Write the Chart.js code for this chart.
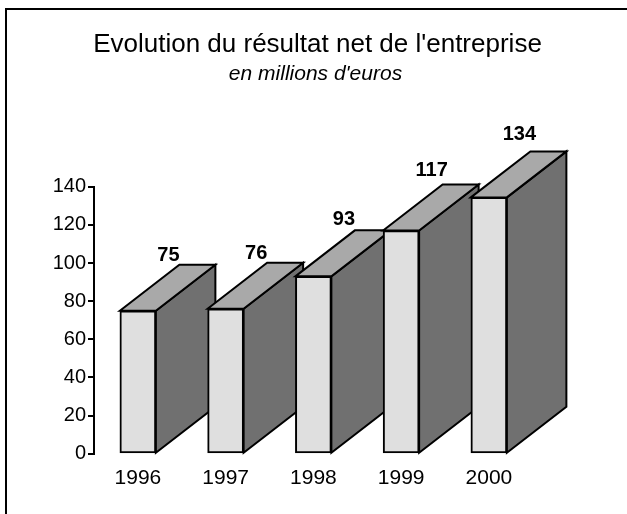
<!DOCTYPE html>
<html><head><meta charset="utf-8">
<style>html,body{margin:0;padding:0;background:#fff}#w{position:relative;width:627px;height:514px}canvas{display:block}</style>
<script src="https://cdn.jsdelivr.net/npm/chart.js@4"></script></head>
<body><div id="w"><canvas id="c" width="627" height="514"></canvas></div>
<script>
const years = ['1996','1997','1998','1999','2000'];
const resultat = [75,76,93,117,134.4];
const yTicks = [0,20,40,60,80,100,120,140];
const titleText = "Evolution du résultat net de l'entreprise";
const subtitleText = "en millions d'euros";
const FONT = '"Liberation Sans", Arial, sans-serif';
const DEPTH_X = 59.5, DEPTH_Y = 46;

function poly(ctx, pts, fill){
  ctx.beginPath();
  pts.forEach((p,i)=> i?ctx.lineTo(p[0],p[1]):ctx.moveTo(p[0],p[1]));
  ctx.closePath();
  ctx.fillStyle = fill; ctx.fill();
  ctx.lineWidth = 2; ctx.strokeStyle = '#000'; ctx.lineJoin='miter'; ctx.stroke();
}
const box3d = {
  id:'box3d',
  afterLayout(chart){
    // the two title lines are centred on the page, not on the plot area
    chart.boxes.forEach(b=>{ if(b.fullSize && b.position==='top'){ b.left=0; b.right=b.options.text===titleText?635:631; } });
  },
  beforeDatasetsDraw(chart){
    const ctx = chart.ctx, meta = chart.getDatasetMeta(0);
    ctx.save();
    meta.data.forEach(bar=>{
      const p = bar.getProps(['x','y','base','width'], true);
      const l = p.x-p.width/2, r = p.x+p.width/2;
      poly(ctx,[[r,p.base],[r+DEPTH_X,p.base-DEPTH_Y],[r+DEPTH_X,p.y-DEPTH_Y],[r,p.y]],'#707070');
      poly(ctx,[[l,p.y],[l+DEPTH_X,p.y-DEPTH_Y],[r+DEPTH_X,p.y-DEPTH_Y],[r,p.y]],'#a9a9a9');
    });
    ctx.restore();
  },
  afterDatasetsDraw(chart){
    const ctx = chart.ctx, meta = chart.getDatasetMeta(0);
    ctx.save();
    ctx.fillStyle='#000'; ctx.font='bold 20px '+FONT; ctx.textAlign='center'; ctx.textBaseline='middle';
    meta.data.forEach((bar,i)=>{
      const p = bar.getProps(['x','y'], true), v = resultat[i];
      const off = 9 + (v-75)*0.125;
      ctx.fillText(String(Math.round(v)), p.x+30.5, p.y-DEPTH_Y-off);
    });
    // outer frame: left and top edges
    ctx.lineWidth=2; ctx.strokeStyle='#000';
    ctx.beginPath(); ctx.moveTo(6,514); ctx.lineTo(6,9); ctx.lineTo(627,9); ctx.stroke();
    ctx.restore();
  }
};
new Chart(document.getElementById('c'),{
  type:'bar',
  data:{labels:years,datasets:[{label:'Résultat net',data:resultat,backgroundColor:'#dfdfdf',borderColor:'#000',borderWidth:2,borderSkipped:false,barThickness:36}]},
  options:{
    responsive:false,animation:false,
    layout:{padding:{left:0,right:94.25,top:0,bottom:19}},
    plugins:{
      legend:{display:false},tooltip:{enabled:false},
      title:{display:true,text:titleText,color:'#000',font:{family:FONT,size:26,weight:'normal'},padding:{top:29,bottom:0}},
      subtitle:{display:true,text:subtitleText,color:'#000',font:{family:FONT,size:21,style:'italic',weight:'normal'},padding:{top:1,bottom:100.3}}
    },
    scales:{
      x:{grid:{display:false},border:{display:false},ticks:{color:'#000',font:{family:FONT,size:21},padding:4,maxRotation:0,autoSkip:false}},
      y:{min:0,max:140,
        afterBuildTicks(s){ s.ticks = yTicks.map(v=>({value:v})); },
        afterFit(s){ s.width = 94; },
        grid:{drawOnChartArea:false,drawTicks:true,tickLength:6,color:'#000',lineWidth:2},
        border:{color:'#000',width:2},
        ticks:{color:'#000',font:{family:FONT,size:20},padding:2}}
    }
  },
  plugins:[box3d]
});
</script></body></html>
